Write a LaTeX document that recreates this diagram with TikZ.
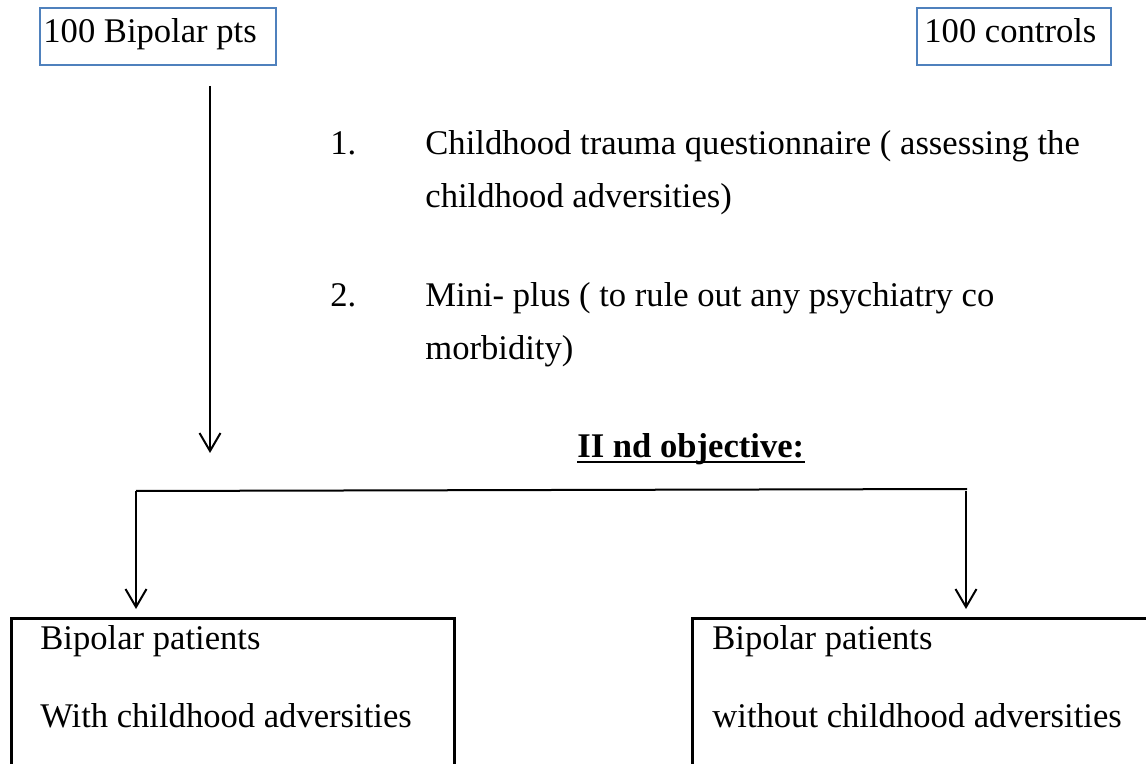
\documentclass[tikz,border=0pt]{standalone}
\usepackage{fontspec}
\setmainfont{Liberation Serif}
\usetikzlibrary{arrows.meta}
\definecolor{boxblue}{HTML}{4F81BD}
\begin{document}
\begin{tikzpicture}[x=0.5pt,y=-0.5pt,
  txt/.style={inner sep=0pt, anchor=base west, font=\fontsize{17.3}{20}\selectfont},
  bluebox/.style={draw=boxblue, line width=1pt, anchor=north west, inner sep=0pt},
  blackbox/.style={draw=black, line width=1.25pt, anchor=north west, inner sep=0pt},
  conn/.style={line width=1pt, draw=black},
  arr/.style={conn, -{Straight Barb[length=9pt,width=10.5pt,line width=1pt]}}]
\clip (0,0) rectangle (1146,764);
\fill[white] (0,0) rectangle (1146,764);
% top boxes
\node[bluebox, minimum width=118pt, minimum height=28.5pt] (bp) at (39,7) {};
\node[txt] (bpt) at (43,43) {100 Bipolar pts};
\node[bluebox, minimum width=97pt, minimum height=28.5pt] (ct) at (916,7) {};
\node[txt] (ctt) at (924,43) {100 controls};
% list
\node[txt] (n1) at (330,155) {1.};
\node[txt] (l1a) at (425,155) {Childhood trauma questionnaire ( assessing the};
\node[txt] (l1b) at (425,208) {childhood adversities)};
\node[txt] (n2) at (330,307) {2.};
\node[txt] (l2a) at (425,307) {Mini- plus ( to rule out any psychiatry co};
\node[txt] (l2b) at (425,360) {morbidity)};
% heading
\node[txt, font=\fontsize{17.3}{20}\selectfont\bfseries] (head) at (577,458) {II nd objective:};
\draw[line width=1pt] ([yshift=-2.2pt]head.base west) -- ([yshift=-2.2pt]head.base east);
% bottom boxes
\node[blackbox, minimum width=221.5pt, minimum height=100pt] (lb) at (10,617) {};
\node[txt] (lb1) at (40,649) {Bipolar patients};
\node[txt] (lb2) at (40,727) {With childhood adversities};
\node[blackbox, minimum width=240pt, minimum height=100pt] (rb) at (691,617) {};
\node[txt] (rb1) at (712,649) {Bipolar patients};
\node[txt] (rb2) at (712,727) {without childhood adversities};
% connectors
\coordinate (s) at (210,86);
\coordinate (se) at (210,453);
\coordinate (hl) at (136,491);
\coordinate (hr) at (967,489);
\coordinate (hr2) at (966,491);
\draw[arr] (s) -- (se);
\draw[conn] (hl) -- (hr);
\draw[arr, shorten >=4pt] (hl) -- (hl |- lb.north);
\draw[arr, shorten >=4pt] (hr2) -- (hr2 |- rb.north);
\end{tikzpicture}
\end{document}
